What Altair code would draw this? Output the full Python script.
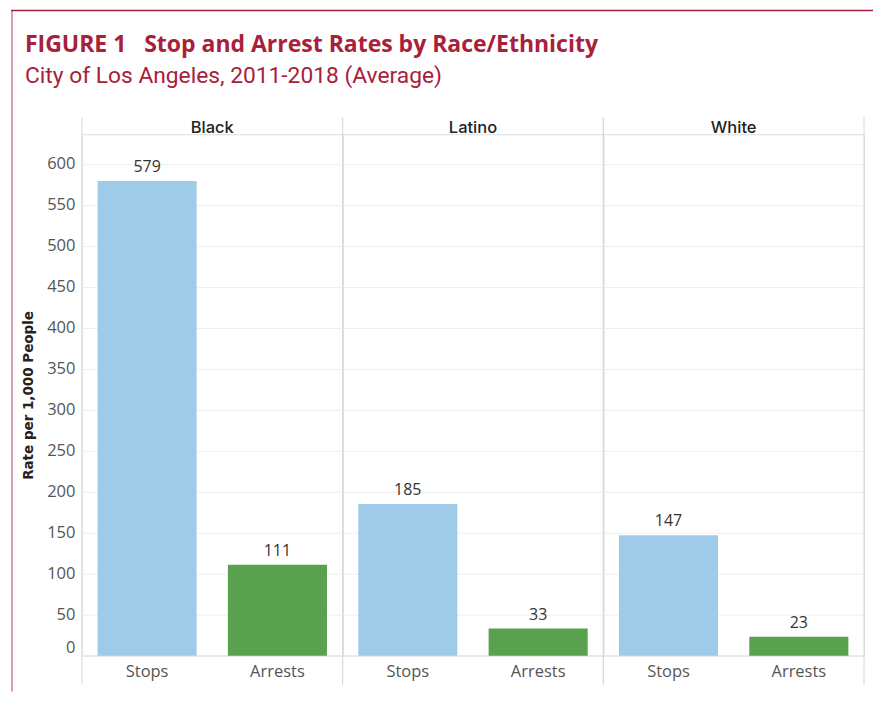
import altair as alt
import pandas as pd

races = ["Black", "Black", "Latino", "Latino", "White", "White"]
measures = ["Stops", "Arrests", "Stops", "Arrests", "Stops", "Arrests"]
rates = [579, 111, 185, 33, 147, 23]

title_text = "FIGURE 1\u00a0\u00a0\u00a0Stop and Arrest Rates by Race/Ethnicity"
subtitle_text = "City of Los Angeles, 2011-2018 (Average)"

df = pd.DataFrame({"race": races, "measure": measures, "rate": rates})

W = 261
H = 522
CRIMSON = "#A8203A"
FONT = "Open Sans"

x_enc = alt.X("measure:N", sort=["Stops", "Arrests"], title=None,
              scale=alt.Scale(paddingInner=0.24, paddingOuter=0.12),
              axis=alt.Axis(labelAngle=0, ticks=False, labelPadding=8,
                            labelFontSize=16.5, labelColor="#555555", labelFont=FONT,
                            domainColor="#d0d0d0", grid=False))
y_enc = alt.Y("rate:Q", title="Rate per 1,000 People",
              scale=alt.Scale(domain=[0, 636], nice=False, zero=True),
              axis=alt.Axis(values=list(range(0, 601, 50)), ticks=False, labelPadding=7,
                            labelFontSize=16.5, labelColor="#555555", labelFont=FONT,
                            labelFlush=True, domain=False,
                            titleFontSize=13.5, titleFontWeight="bold", titleColor="#222222",
                            titleFont="DejaVu Sans", titlePadding=11,
                            grid=True, gridColor="#efefef"))

base = alt.Chart()

bars = base.mark_bar().encode(
    x=x_enc, y=y_enc,
    color=alt.Color("measure:N", legend=None,
                    scale=alt.Scale(domain=["Stops", "Arrests"], range=["#A0CBE8", "#59A14F"])),
)

labels = base.mark_text(dy=-14, fontSize=16, color="#333333", font=FONT).encode(
    x=alt.X("measure:N", sort=["Stops", "Arrests"]),
    y="rate:Q",
    text="rate:Q",
)

stops_only = base.transform_filter(alt.datum.measure == "Stops")

div_left = stops_only.mark_rule(color="#d9d9d9", strokeWidth=1).encode(
    x=alt.value(0), y=alt.value(-17), y2=alt.value(H + 29))
div_right = stops_only.mark_rule(color="#d9d9d9", strokeWidth=1).encode(
    x=alt.value(W), y=alt.value(-17), y2=alt.value(H + 29))

first = base.transform_filter((alt.datum.race == "Black") & (alt.datum.measure == "Stops"))

frame_left = first.mark_rule(color="#D27C94", strokeWidth=1.5).encode(
    x=alt.value(-70), y=alt.value(-124), y2=alt.value(H + 36))
frame_top = first.mark_rule(color=CRIMSON, strokeWidth=1.5).encode(
    x=alt.value(-71), x2=alt.value(792), y=alt.value(-124))

title_mark = first.mark_text(align="left", baseline="alphabetic", fontSize=23,
                             fontWeight="bold", color=CRIMSON, font="Open Sans").encode(
    x=alt.value(-57), y=alt.value(-82), text=alt.value(title_text))
subtitle_mark = first.mark_text(align="left", baseline="alphabetic", fontSize=22.8,
                                color=CRIMSON, font="Roboto").encode(
    x=alt.value(-57), y=alt.value(-51), text=alt.value(subtitle_text))

layer = alt.layer(frame_left, frame_top, title_mark, subtitle_mark,
                  bars, labels, div_left, div_right).properties(width=W, height=H)

chart = layer.facet(
    data=df,
    column=alt.Column("race:N", title=None, sort=["Black", "Latino", "White"],
                      header=alt.Header(labelOrient="top", labelFontSize=16.5,
                                        labelFontWeight=500,
                                        labelColor="#222222", labelFont="Inter",
                                        labelPadding=-2)),
    spacing=0,
    bounds="flush",
).configure_view(stroke="#e2e2e2").configure(padding={"left": 1, "top": 0, "right": 0, "bottom": 0})

chart.save("out.html", embed_options={"renderer": "svg", "actions": False})
